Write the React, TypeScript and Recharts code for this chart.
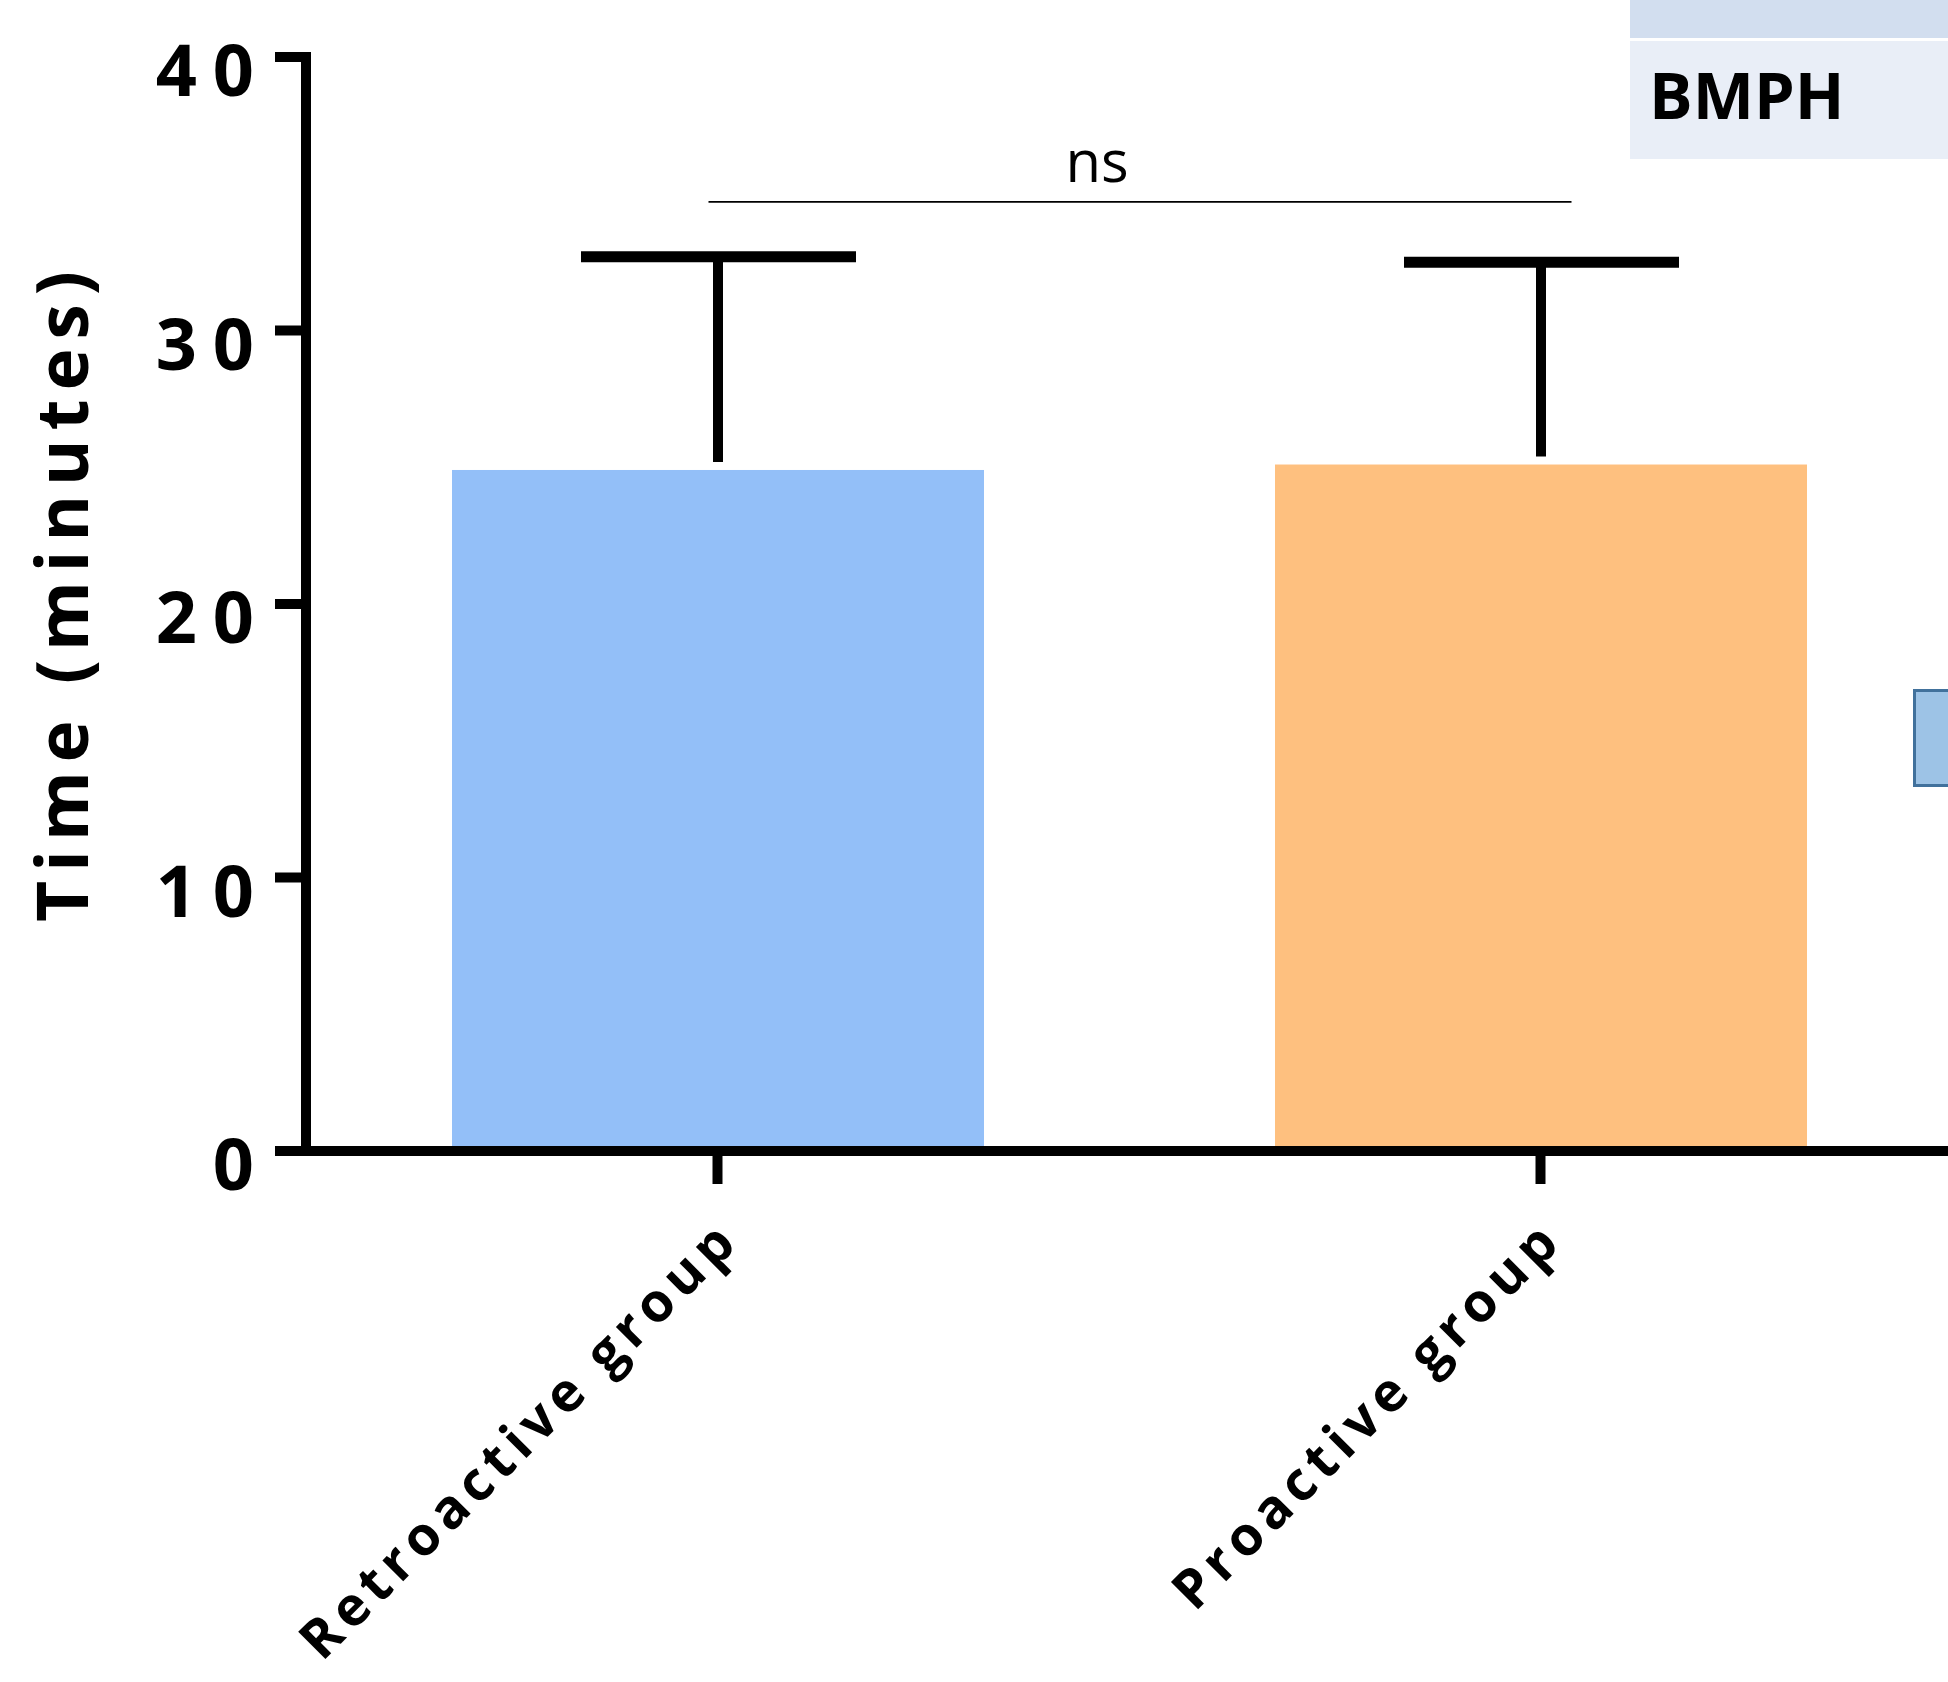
import React from 'react'
import { BarChart, Bar, XAxis, YAxis, ReferenceLine } from 'recharts'

// values
const categories = ['Retroactive group', 'Proactive group']
const means = [24.9, 25.1]
const sds = [7.8, 7.4]
const barColors = ['#93BFF8', '#FEC07F']
const yTicks = [0, 10, 20, 30, 40]
const nsLevel = 34.7

const data = categories.map((name, i) => ({ name, mean: means[i], sd: sds[i], color: barColors[i] }))

const FONT = '"Open Sans", "DejaVu Sans", sans-serif'

function YTick(props: any) {
  const { x, y, payload } = props
  return (
    <text x={x} y={y + 39} textAnchor="end" fontFamily={FONT} fontWeight={700} fontSize={72} letterSpacing={16} fill="#000">
      {payload.value}
    </text>
  )
}

function XTick(props: any) {
  const { x, y, payload } = props
  const ax = x + 25
  const ay = y + 61
  return (
    <text x={ax} y={ay} transform={`rotate(-45 ${ax} ${ay})`} textAnchor="end" fontFamily={FONT} fontWeight={700} fontSize={54} letterSpacing={6.5} fill="#000">
      {payload.value}
    </text>
  )
}

function YLabel(props: any) {
  const { viewBox } = props
  const x = viewBox.x + 88
  const y = viewBox.y + viewBox.height / 2 - 12
  return (
    <text x={x} y={y} transform={`rotate(-90 ${x} ${y})`} textAnchor="middle" fontFamily={FONT} fontWeight={700} fontSize={71} letterSpacing={9} fill="#000">
      Time (minutes)
    </text>
  )
}

// bar + upper error whisker (SD), whisker scaled from the bar's own geometry
function BarWithError(props: any) {
  const { x, y, width, height, payload } = props
  const pxPerUnit = height / payload.mean
  const top = y - payload.sd * pxPerUnit
  const cx = x + width / 2
  return (
    <g>
      <rect x={x} y={y} width={width} height={height} fill={payload.color} />
      <line x1={cx} x2={cx} y1={y - 8} y2={top} stroke="#000" strokeWidth={10} />
      <line x1={cx - 137} x2={cx + 138} y1={top} y2={top} stroke="#000" strokeWidth={11} />
    </g>
  )
}

function NsBracket(props: any) {
  const { x1, x2, y1 } = props
  const mid = (x1 + x2) / 2
  return (
    <g>
      <line x1={x1 - 9} x2={x2 + 31} y1={y1} y2={y1} stroke="#000" strokeWidth={1.8} />
      <text x={mid - 32} y={y1 - 20} textAnchor="middle" fontFamily={FONT} fontSize={58} fill="#000">ns</text>
    </g>
  )
}

export default function App() {
  return (
    <div style={{ position: 'fixed', left: 0, top: 0, width: 1948, height: 1682, overflow: 'hidden', background: '#fff' }}>
      <BarChart width={1952} height={1682} data={data} margin={{ top: 57, right: 0, bottom: 0, left: 0 }}>
        <XAxis
          dataKey="name"
          height={531}
          stroke="#000"
          axisLine={{ stroke: '#000', strokeWidth: 10, strokeLinecap: 'square' }}
          tickLine={{ stroke: '#000', strokeWidth: 10, strokeLinecap: 'square' }}
          tickSize={28}
          tick={<XTick />}
          interval={0}
        />
        <YAxis
          width={306}
          domain={[0, 40]}
          ticks={yTicks}
          interval={0}
          stroke="#000"
          axisLine={{ stroke: '#000', strokeWidth: 10, strokeLinecap: 'square' }}
          tickLine={{ stroke: '#000', strokeWidth: 10, strokeLinecap: 'square' }}
          tickSize={26}
          tickMargin={10}
          tick={<YTick />}
          label={{ content: YLabel }}
        />
        <Bar dataKey="mean" barSize={532} isAnimationActive={false} shape={BarWithError} />
        <ReferenceLine
          segment={[{ x: categories[0], y: nsLevel }, { x: categories[1], y: nsLevel }]}
          ifOverflow="visible"
          shape={NsBracket}
        />
      </BarChart>
      {/* cropped pieces of the neighbouring panel */}
      <div style={{ position: 'absolute', left: 1630, top: 0, width: 330, height: 38, background: '#D2DEEF' }} />
      <div style={{ position: 'absolute', left: 1630, top: 41, width: 330, height: 118, background: '#E9EEF7' }}>
        <div style={{ position: 'absolute', left: 19, top: 9, fontFamily: FONT, fontWeight: 700, fontSize: 65, color: '#000' }}>BMPH</div>
      </div>
      <div style={{ position: 'absolute', left: 1913, top: 689, width: 60, height: 98, background: '#9DC3E6', border: '3px solid #41719C', boxSizing: 'border-box' }} />
    </div>
  )
}
